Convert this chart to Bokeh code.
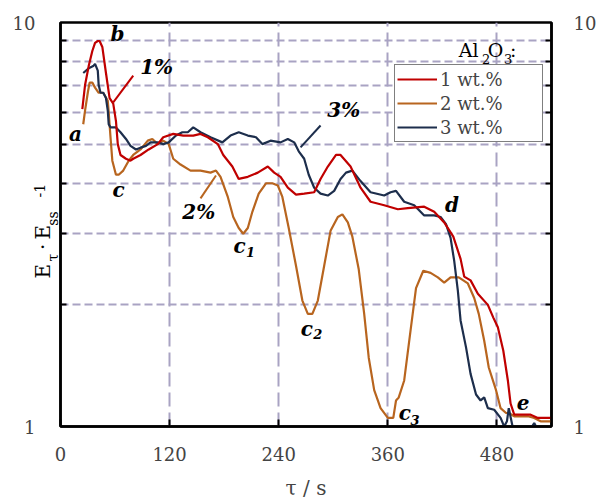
import math
from bokeh.plotting import figure
from bokeh.models import (FixedTicker, LogAxis, NumeralTickFormatter, Label, Legend,
                          LegendItem, ColumnDataSource, Range1d, Title)
from bokeh.core.properties import value
from bokeh.embed import file_html
from bokeh.resources import INLINE

# ---------------- data ----------------
t_red = [24, 27, 31, 35, 38, 41, 43, 46, 50, 54, 58, 61, 63, 66, 72, 77, 80, 88, 97, 107,
         113, 124, 135, 146, 154, 162, 173, 179, 189, 196, 206, 217, 228, 235, 242, 250, 259, 268, 279, 286,
         294, 303, 308, 319, 330, 341, 356, 371, 382, 400, 411, 422, 432, 440, 444, 451, 459, 470, 476, 481,
         487, 492, 495, 499, 517, 525, 540]
y_red = [6.1, 7.0, 7.8, 8.5, 8.9, 9.0, 9.0, 8.7, 7.5, 6.5, 6.3, 5.7, 5.0, 4.7, 4.6, 4.55, 4.6, 4.7, 4.85, 5.0,
         5.2, 5.3, 5.25, 5.25, 5.3, 5.2, 5.0, 4.7, 4.4, 4.1, 4.15, 4.25, 4.4, 4.25, 4.15, 3.9, 3.75, 3.77, 3.8, 4.1,
         4.4, 4.7, 4.7, 4.4, 3.9, 3.6, 3.53, 3.45, 3.47, 3.5, 3.4, 3.2, 2.95, 2.6, 2.35, 2.3, 2.13, 2.0, 1.86, 1.76,
         1.54, 1.3, 1.14, 1.07, 1.07, 1.05, 1.05]

t_brown = [25, 27, 30, 32, 35, 38, 42, 47, 52, 53, 55, 57, 61, 64, 69, 75, 80, 88, 96, 101,
           107, 113, 119, 124, 132, 143, 154, 165, 171, 176, 184, 190, 196, 201, 206, 211, 218, 226, 233, 239,
           244, 251, 259, 266, 272, 277, 283, 290, 297, 305, 310, 316, 321, 328, 334, 339, 345, 352, 360, 366,
           369, 372, 378, 385, 391, 399, 407, 415, 422, 429, 438, 448, 455, 460, 466, 471, 479, 484, 490, 493,
           499, 514, 521, 528, 540]
y_brown = [5.6, 6.05, 6.7, 7.1, 7.1, 6.9, 6.7, 6.7, 6.4, 6.0, 5.2, 4.55, 4.2, 4.2, 4.3, 4.55, 4.7, 4.85, 5.1, 5.15,
           5.0, 5.1, 5.0, 4.6, 4.45, 4.3, 4.3, 4.25, 4.3, 4.15, 3.7, 3.3, 3.1, 3.0, 3.1, 3.4, 3.77, 4.0, 4.0, 3.95,
           3.7, 3.1, 2.5, 2.05, 1.9, 1.9, 2.05, 2.5, 3.05, 3.3, 3.35, 3.2, 2.95, 2.45, 1.9, 1.48, 1.23, 1.11, 1.05, 1.05,
           1.16, 1.18, 1.3, 1.73, 2.2, 2.43, 2.4, 2.34, 2.27, 2.34, 2.34, 2.26, 2.08, 1.9, 1.63, 1.4, 1.23, 1.11, 1.08, 1.08,
           1.06, 1.06, 1.05, 1.03, 1.03]

t_navy = [25, 31, 36, 38, 41, 42, 44, 47, 50, 52, 53, 55, 61, 66, 72, 77, 83, 88, 94, 99,
          107, 113, 119, 127, 134, 140, 146, 154, 165, 178, 187, 196, 206, 215, 222, 231, 242, 250, 257, 262,
          268, 273, 279, 286, 294, 301, 308, 314, 321, 330, 341, 356, 363, 369, 378, 389, 400, 411, 418, 424,
          429, 433, 437, 440, 446, 451, 457, 462, 466, 470, 477, 484, 488, 491, 493, 498, 505, 515, 521, 526,
          531, 540]
y_navy = [7.5, 7.7, 7.8, 7.9, 7.6, 7.0, 6.7, 6.7, 6.5, 6.05, 5.6, 5.5, 5.5, 5.35, 5.15, 4.95, 4.85, 4.9, 4.95, 5.05,
          5.05, 5.0, 5.05, 5.25, 5.35, 5.35, 5.5, 5.35, 5.2, 5.05, 5.25, 5.35, 5.25, 5.2, 5.0, 5.1, 5.05, 5.15, 5.05, 4.8,
          4.6, 4.2, 3.9, 3.77, 3.73, 3.83, 4.1, 4.25, 4.3, 4.05, 3.8, 3.73, 3.8, 3.83, 3.6, 3.53, 3.33, 3.33, 3.3, 3.17,
          2.93, 2.57, 2.17, 1.83, 1.57, 1.35, 1.2, 1.16, 1.18, 1.11, 1.1, 1.05, 1.0, 1.03, 1.11, 0.98, 0.97, 0.97, 1.02, 0.97,
          0.97, 0.97]

series_labels = ["1 wt.%", "2 wt.%", "3 wt.%"]
x_ticks = [0, 120, 240, 360, 480]
y_major = [1, 10]
y_minor = [2, 3, 4, 5, 6, 7, 8, 9]

# pointer lines from the % labels to the curves
ptr_1_t, ptr_1_y = [58, 80], [6.34, 7.39]
ptr_2_t, ptr_2_y = [154, 171], [3.67, 4.18]
ptr_3_t, ptr_3_y = [264, 286], [4.91, 5.56]

# italic point labels
ann_text = ["a", "b", "c", "1%", "2%", "3%", "c", "c", "c", "d", "e"]
ann_t = [16.5, 62.8, 63.9, 105.7, 152, 311.6, 197, 270.8, 378.7, 430.5, 508.7]
ann_y = [5.31, 9.39, 3.84, 7.78, 3.39, 6.06, 2.79, 1.748, 1.077, 3.54, 1.147]
sub_text = ["1", "2", "3"]
sub_t = [209, 283, 389.8]
sub_y = [2.70, 1.69, 1.035]

RED = "#C00000"
BROWN = "#B8651F"
NAVY = "#1D2E4C"
GRID = "#A9A3C3"
FONT = "DejaVu Serif"

p = figure(width=606, height=504, x_range=Range1d(0, 540), y_range=Range1d(1, 10),
           y_axis_type="log", output_backend="svg", toolbar_location=None,
           min_border_left=60, min_border_right=55, min_border_top=22, min_border_bottom=78)
p.background_fill_color = "white"
p.border_fill_color = "white"
p.outline_line_color = "black"
p.outline_line_width = 2.5

xt = FixedTicker(ticks=x_ticks)
yt = FixedTicker(ticks=y_major, minor_ticks=y_minor)

# grids
p.xgrid.ticker = xt
p.xgrid.grid_line_color = GRID
p.xgrid.grid_line_width = 2
p.xgrid.grid_line_dash = "14 6"
p.ygrid.ticker = yt
p.ygrid.grid_line_color = GRID
p.ygrid.grid_line_width = 2
p.ygrid.grid_line_dash = "8 4"
p.ygrid.minor_grid_line_color = GRID
p.ygrid.minor_grid_line_width = 2
p.ygrid.minor_grid_line_dash = "8 4"

# x axis
xa = p.xaxis[0]
xa.ticker = xt
xa.axis_label = "τ / s"
xa.axis_label_text_font = FONT
xa.axis_label_text_font_style = "normal"
xa.axis_label_text_font_size = "20px"
xa.axis_label_standoff = 12
xa.major_label_text_font = FONT
xa.major_label_text_font_size = "18px"
xa.major_label_standoff = 20
xa.major_tick_in = 7
xa.major_tick_out = 0
xa.minor_tick_in = 0
xa.minor_tick_out = 0
xa.axis_line_width = 2.5
xa.major_tick_line_width = 2

# left: inner axis carries the axis line and the inward minor ticks (no labels)
ya = p.yaxis[0]
ya.ticker = yt
ya.major_label_overrides = {1: "", 10: ""}
ya.major_label_text_font = FONT
ya.major_label_text_font_size = "18px"
ya.major_label_standoff = 0
ya.major_tick_in = 0
ya.major_tick_out = 0
ya.minor_tick_in = 6
ya.minor_tick_out = 0
ya.minor_tick_line_width = 2
ya.axis_line_width = 2.5

# y-axis title  E_tau . E_ss ^-1  built from three rotated pieces
def ytitle(text, size, offset, standoff):
    p.add_layout(Title(text=text, align="left", vertical_align="middle", offset=offset,
                       standoff=standoff, text_font=FONT, text_font_size=size,
                       text_font_style="normal", text_color="black"), "left")

ytitle("τ\u2003\u2003ss", "14px", 165, -2)          # subscripts (nearest the frame)
ytitle("E\u2002\u2009·\u2009E", "20px", 148, -23)   # main letters
ytitle("-1", "14px", 229, -9)                        # superscript

# outer axis with the "1" / "10" labels
la = LogAxis(ticker=yt, formatter=NumeralTickFormatter(format="0"))
la.axis_line_color = None
la.major_tick_line_color = None
la.minor_tick_line_color = None
la.major_label_text_font = FONT
la.major_label_text_font_size = "18px"
la.major_label_standoff = -4
p.add_layout(la, "left")

# right axis
ra = LogAxis(ticker=yt, formatter=NumeralTickFormatter(format="0"))
ra.major_label_text_font = FONT
ra.major_label_text_font_size = "18px"
ra.major_label_standoff = 22
ra.major_tick_in = 0
ra.major_tick_out = 0
ra.minor_tick_in = 6
ra.minor_tick_out = 0
ra.minor_tick_line_width = 2
ra.axis_line_width = 2.5
p.add_layout(ra, "right")

# curves
r2 = p.line(t_brown, y_brown, color=BROWN, line_width=2.2)
r3 = p.line(t_navy, y_navy, color=NAVY, line_width=2.2)
r1 = p.line(t_red, y_red, color=RED, line_width=2.2)

# pointer lines
p.line(ptr_1_t, ptr_1_y, color=RED, line_width=2)
p.line(ptr_2_t, ptr_2_y, color=BROWN, line_width=2)
p.line(ptr_3_t, ptr_3_y, color=NAVY, line_width=2)

# italic annotations
p.text(x="t", y="y", text="text", source=ColumnDataSource(dict(t=ann_t, y=ann_y, text=ann_text)),
       text_font=value(FONT), text_font_style="bold italic", text_font_size="20px",
       text_align="center", text_baseline="middle", text_color="black")
p.text(x="t", y="y", text="text", source=ColumnDataSource(dict(t=sub_t, y=sub_y, text=sub_text)),
       text_font=value(FONT), text_font_style="bold italic", text_font_size="13px",
       text_align="center", text_baseline="middle", text_color="black")

# legend
legend = Legend(items=[LegendItem(label=series_labels[0], renderers=[r1]),
                       LegendItem(label=series_labels[1], renderers=[r2]),
                       LegendItem(label=series_labels[2], renderers=[r3])],
                location=(334, 284))
legend.label_text_font = FONT
legend.label_text_font_size = "18px"
legend.glyph_width = 40
legend.glyph_height = 24
legend.label_height = 24
legend.label_standoff = 3
legend.label_width = 100
legend.spacing = 0
legend.padding = 2
legend.margin = 0
legend.border_line_color = "black"
legend.border_line_width = 1
legend.background_fill_color = "white"
legend.background_fill_alpha = 1
p.add_layout(legend)

# legend heading  Al2O3:  (bottom-anchored pieces just above the legend box)
def lab(x, y, text, size):
    p.add_layout(Label(x=x, y=y, text=text, text_font=FONT, text_font_size=size,
                       text_color="black", text_baseline="bottom"))

lab(438, 8.008, "Al", "19px")
lab(463.5, 7.89, "2", "13px")
lab(470, 8.008, "O", "19px")
lab(487.7, 7.89, "3", "13px")
lab(494.3, 8.008, ":", "19px")

open("out.html", "w").write(file_html(p, INLINE))
